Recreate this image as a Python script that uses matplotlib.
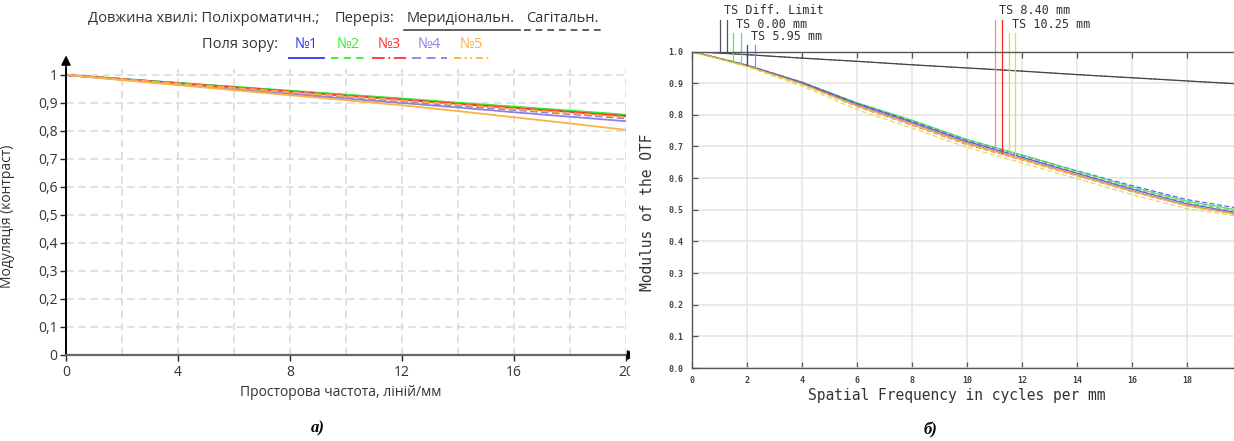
import matplotlib
matplotlib.use("Agg")
import matplotlib.pyplot as plt
from matplotlib.patches import Rectangle
from matplotlib.lines import Line2D
import matplotlib.transforms as mtransforms
from matplotlib.ticker import FuncFormatter, MultipleLocator

W, H = 1234, 441

# ---------------- data: panel a ----------------
freq_a = [0, 2, 4, 6, 8, 10, 12, 14, 16, 18, 20]
fields_a = ["№1", "№2", "№3", "№4", "№5"]
colors_a = ["#3333ff", "#33ee33", "#ff3333", "#9080e0", "#ffb040"]
tan_a = [
    [1.000, 0.986, 0.971, 0.957, 0.942, 0.928, 0.914, 0.899, 0.885, 0.870, 0.856],
    [1.000, 0.986, 0.972, 0.958, 0.944, 0.930, 0.916, 0.901, 0.887, 0.873, 0.858],
    [1.000, 0.985, 0.970, 0.956, 0.941, 0.926, 0.912, 0.897, 0.882, 0.868, 0.853],
    [1.000, 0.983, 0.966, 0.949, 0.932, 0.916, 0.900, 0.884, 0.867, 0.851, 0.835],
    [1.000, 0.982, 0.964, 0.946, 0.928, 0.910, 0.892, 0.871, 0.849, 0.827, 0.804],
]
sag_a = [
    [1.000, 0.985, 0.970, 0.955, 0.941, 0.926, 0.912, 0.897, 0.882, 0.868, 0.853],
    [1.000, 0.985, 0.971, 0.956, 0.942, 0.928, 0.913, 0.899, 0.885, 0.870, 0.856],
    [1.000, 0.985, 0.969, 0.954, 0.939, 0.924, 0.909, 0.893, 0.878, 0.863, 0.848],
    [1.000, 0.984, 0.968, 0.952, 0.937, 0.921, 0.906, 0.890, 0.875, 0.860, 0.845],
    [1.000, 0.985, 0.969, 0.954, 0.939, 0.924, 0.909, 0.894, 0.879, 0.864, 0.849],
]
xticks_a = [0, 4, 8, 12, 16, 20]

# ---------------- data: panel b ----------------
freq_b = [0, 2, 4, 6, 8, 10, 12, 14, 16, 18, 20]
diff_b = [1.000, 0.990, 0.979, 0.969, 0.958, 0.948, 0.938, 0.927, 0.917, 0.907, 0.897]
names_b = ["TS 0.00 mm", "TS 5.95 mm", "TS 8.40 mm", "TS 10.25 mm"]
colors_b = ["#44dd44", "#4444ff", "#ff4444", "#d6d64a"]
tan_b = [
    [1.000, 0.957, 0.903, 0.838, 0.783, 0.722, 0.673, 0.622, 0.572, 0.527, 0.497],
    [1.000, 0.956, 0.902, 0.835, 0.777, 0.716, 0.666, 0.615, 0.565, 0.519, 0.488],
    [1.000, 0.955, 0.899, 0.830, 0.772, 0.711, 0.661, 0.610, 0.560, 0.514, 0.484],
    [1.000, 0.954, 0.897, 0.827, 0.769, 0.708, 0.658, 0.608, 0.558, 0.512, 0.482],
]
sag_b = [
    [1.000, 0.956, 0.901, 0.834, 0.777, 0.716, 0.667, 0.617, 0.568, 0.523, 0.493],
    [1.000, 0.957, 0.903, 0.837, 0.781, 0.721, 0.672, 0.623, 0.576, 0.532, 0.503],
    [1.000, 0.954, 0.897, 0.826, 0.767, 0.706, 0.657, 0.607, 0.557, 0.512, 0.482],
    [1.000, 0.952, 0.891, 0.816, 0.758, 0.697, 0.648, 0.598, 0.548, 0.503, 0.478],
]
# legend marker lines (frequency, curve value at bottom)
mk_labels = ["TS Diff. Limit", "TS 0.00 mm", "TS 5.95 mm", "TS 8.40 mm", "TS 10.25 mm"]
mk_colors = [("#555555", "#555555"), ("#66dd66", "#66dd66"), ("#3333ee", "#8888ff"),
             ("#ff8888", "#ff2222"), ("#dddd44", "#dddd44")]
mk_freq = [(1.02, 1.28), (1.48, 1.77), (2.01, 2.29), (11.03, 11.27), (11.52, 11.76)]
mk_bottom = [(0.995, 0.994), (0.967, 0.960), (0.956, 0.950), (0.688, 0.680), (0.676, 0.670)]
mk_row = [0, 1, 2, 0, 1]

fig = plt.figure(figsize=(W / 100, H / 100), dpi=100)


def fx(px):
    return px / W


def fy(py):
    return 1 - py / H


sans = ["Open Sans", "DejaVu Sans"]
mono = "DejaVu Sans Mono"
tc = "#333333"

# ================= panel a =================
ya_top = 1.02
a0, a1 = 355, 355 - 280 * ya_top
axa = fig.add_axes([fx(66), fy(355), fx(626 - 66), (355 - a1) / H])
axa.set_xlim(0, 20)
axa.set_ylim(0, ya_top)
for sp in ("top", "right"):
    axa.spines[sp].set_visible(False)
axa.spines["left"].set_color("black")
axa.spines["left"].set_linewidth(1.4)
axa.spines["bottom"].set_color("#666666")
axa.spines["bottom"].set_linewidth(1.6)
axa.set_xticks(xticks_a)
axa.xaxis.set_minor_locator(MultipleLocator(2))
axa.set_yticks([i / 10 for i in range(11)])
axa.yaxis.set_major_formatter(FuncFormatter(
    lambda v, p: "0" if abs(v) < 1e-9 else ("1" if abs(v - 1) < 1e-9 else f"{v:.1f}".replace(".", ","))))
axa.tick_params(axis="both", which="major", direction="out", length=4.5, width=1.0,
                labelsize=10, labelcolor=tc, color="#222222", pad=1.5)
axa.tick_params(axis="x", which="major", pad=3)
axa.tick_params(axis="x", which="minor", length=0)
for lab in axa.get_xticklabels() + axa.get_yticklabels():
    lab.set_family(sans)
axa.grid(True, which="both", axis="x", color="#d9d9d9", lw=1.1, ls=(0, (5, 3)))
axa.grid(True, which="major", axis="y", color="#d9d9d9", lw=1.1, ls=(0, (5, 3)))
axa.set_axisbelow(True)

for i in range(len(fields_a)):
    axa.plot(freq_a, sag_a[i], color=colors_a[i], lw=1.3, ls=(0, (4, 2)))
    axa.plot(freq_a, tan_a[i], color=colors_a[i], lw=1.3, solid_capstyle="butt")

axa.annotate("", xy=(0, 1.08), xytext=(0, 0.995), xycoords="data",
             arrowprops=dict(arrowstyle="-|>", color="black", lw=1.2, mutation_scale=14),
             annotation_clip=False)
axa.annotate("", xy=(20.5, 0), xytext=(19.95, 0), xycoords="data",
             arrowprops=dict(arrowstyle="-|>", color="black", lw=1.2, mutation_scale=14),
             annotation_clip=False)

axa.set_ylabel("Модуляція (контраст)", fontsize=10, color=tc, family=sans)
axa.yaxis.set_label_coords(-(66 - 15) / 560, (355 - 216) / (355 - a1))
axa.set_xlabel("Просторова частота, ліній/мм", fontsize=10, color=tc, family=sans)
axa.xaxis.set_label_coords(0.49, -(385 - 355) / (355 - a1))

# legend (top rows)
fs_leg = 10.5
fig.text(fx(88), fy(19), "Довжина хвилі: Поліхроматичн.;", fontsize=fs_leg, color=tc,
         family=sans, va="center", ha="left")
fig.text(fx(335), fy(19), "Переріз:", fontsize=fs_leg, color=tc, family=sans, va="center", ha="left")
fig.text(fx(407), fy(19), "Меридіональн.", fontsize=fs_leg, color=tc, family=sans, va="center", ha="left")
fig.text(fx(526), fy(19), "Сагітальн.", fontsize=fs_leg, color=tc, family=sans, va="center", ha="left")
fig.add_artist(Line2D([fx(404), fx(520)], [fy(30), fy(30)], color="#444444", lw=1.2))
fig.add_artist(Line2D([fx(524), fx(602)], [fy(30), fy(30)], color="#444444", lw=1.2, ls=(0, (4, 3))))
fig.text(fx(202), fy(45), "Поля зору:", fontsize=fs_leg, color=tc, family=sans, va="center", ha="left")
leg_x = [295, 337, 378, 418, 460]
leg_ls = ["-", (0, (4, 3)), (0, (7, 2, 1, 2)), (0, (5, 3)), (0, (4, 2, 1, 2, 1, 2))]
for i, name in enumerate(fields_a):
    fig.text(fx(leg_x[i]), fy(45), name, fontsize=fs_leg, color=colors_a[i], family=sans,
             va="center", ha="left")
    fig.add_artist(Line2D([fx(leg_x[i] - 6), fx(leg_x[i] + 29)], [fy(57.5), fy(57.5)],
                          color=colors_a[i], lw=1.3, ls=leg_ls[i]))

# ================= panel b =================
b0, b1 = 368, 51.5
xb_max = (1234 - 692) / 27.5
axb = fig.add_axes([fx(692), fy(b0), fx(1234 - 692), (b0 - b1) / H])
axb.set_xlim(0, xb_max)
axb.set_ylim(0, 1.0)
axb.spines["right"].set_visible(False)
for sp in ("left", "bottom", "top"):
    axb.spines[sp].set_color("#555555")
    axb.spines[sp].set_linewidth(1.0)
axb.set_xticks(list(range(0, 20, 2)))
axb.set_yticks([i / 10 for i in range(11)])
axb.yaxis.set_major_formatter(FuncFormatter(lambda v, p: f"{v:.1f}"))
axb.tick_params(axis="both", direction="in", length=4, width=0.9, color="#555555",
                labelsize=6, labelcolor="#444444", pad=6, top=True)
for lab in axb.get_xticklabels() + axb.get_yticklabels():
    lab.set_family(mono)
    lab.set_fontweight("bold")
axb.grid(True, color="#e6e6e6", lw=1.2)
axb.set_axisbelow(True)

axb.plot(freq_b, diff_b, color="#444444", lw=0.9)
axb.plot(freq_b, diff_b, color="#444444", lw=0.6, ls=(0, (3, 2)))
for i in range(len(names_b)):
    axb.plot(freq_b, sag_b[i], color=colors_b[i], lw=0.9, ls=(0, (4, 2)), alpha=0.85)
for i in range(len(names_b)):
    axb.plot(freq_b, tan_b[i], color=colors_b[i], lw=0.9, alpha=0.85)

trans = mtransforms.blended_transform_factory(axb.transData, axb.transAxes)
row_top_px = [19.5, 32.5, 44.5]
row_txt_px = [11, 24, 37]
for k, lab in enumerate(mk_labels):
    r = mk_row[k]
    top_ax = (b0 - row_top_px[r]) / (b0 - b1)
    for j in range(2):
        bot_ax = mk_bottom[k][j]
        axb.plot([mk_freq[k][j], mk_freq[k][j]], [bot_ax * 1.0, top_ax], color=mk_colors[k][j],
                 lw=0.9, transform=trans, clip_on=False)
    axb.text(mk_freq[k][0] + 0.13, (b0 - row_txt_px[r]) / (b0 - b1), lab, transform=trans,
             fontsize=8.5, family=mono, color="#333333", ha="left", va="center")

axb.set_ylabel("Modulus of the OTF", fontsize=10.5, family=mono, color="#333333")
axb.yaxis.set_label_coords((655 - 692) / 542, (b0 - 212) / (b0 - b1))
axb.set_xlabel("Spatial Frequency in cycles per mm", fontsize=10.5, family=mono, color="#333333")
axb.xaxis.set_label_coords((957 - 692) / 542, -(388 - b0) / (b0 - b1))

# mask between panels (clipped edge of panel a)
fig.add_artist(Rectangle((fx(630), fy(385)), fx(658 - 630), (385 - 335) / H,
                         transform=fig.transFigure, facecolor="white", edgecolor="none", zorder=50))

# captions
fig.text(fx(318), fy(428), "а)", fontsize=12, family="Liberation Serif", style="italic",
         weight="bold", ha="center", va="center")
fig.text(fx(930), fy(430), "б)", fontsize=12, family="Liberation Serif", style="italic",
         weight="bold", ha="center", va="center")

fig.savefig("out.png", dpi=100, facecolor="white")
